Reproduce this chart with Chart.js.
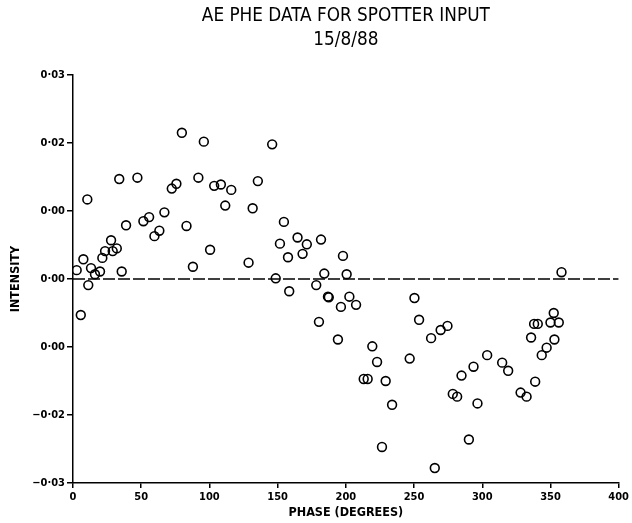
<!DOCTYPE html>
<html>
<head>
<meta charset="utf-8">
<script src="https://cdn.jsdelivr.net/npm/chart.js@4"></script>
<style>
  html, body { margin: 0; padding: 0; background: #fff; }
  #wrap { width: 632px; height: 523px; }
</style>
</head>
<body>
<div id="wrap"><canvas id="c" width="632" height="523"></canvas></div>
<script>
// ---- Data ----
const titleLines = ['AE PHE DATA FOR SPOTTER INPUT', '15/8/88'];
const xAxisTitle = 'PHASE (DEGREES)';
const yAxisTitle = 'INTENSITY';

const phase = [
  2.7, 5.7, 7.6, 10.5, 11.2, 13.2, 16.1, 19.8, 21.5, 23.5,
  27.9, 29.1, 32.1, 33.9, 35.7, 38.9, 47.2, 51.6, 55.8, 59.7,
  63.3, 67.0, 72.4, 75.8, 79.8, 83.2, 87.9, 91.9, 95.9, 100.5,
  103.5, 108.4, 111.6, 116.0, 128.7, 131.7, 135.5, 146.0, 148.6, 151.7,
  154.6, 157.6, 158.5, 164.6, 168.3, 171.4, 178.3, 180.3, 181.8, 184.2,
  186.9, 187.5, 194.2, 196.4, 197.9, 200.6, 202.6, 207.5, 213.1, 216.0,
  219.4, 222.9, 226.5, 229.2, 233.9, 246.8, 250.3, 253.7, 262.5, 265.2,
  269.5, 274.5, 278.4, 281.6, 284.8, 290.2, 293.6, 296.5, 303.6, 314.6,
  319.0, 328.1, 332.5, 335.8, 338.0, 338.8, 340.7, 343.6, 347.2, 350.0,
  352.4, 352.9, 356.1, 358.1
];
const intensity = [
  0.0013, -0.0053, 0.0029, 0.0117, -0.0009, 0.0016, 0.0007, 0.0011, 0.0031, 0.0041,
  0.0057, 0.0041, 0.0045, 0.0147, 0.0011, 0.0079, 0.0149, 0.0085, 0.0091, 0.0063,
  0.0071, 0.0098, 0.0133, 0.0140, 0.0215, 0.0078, 0.0018, 0.0149, 0.0202, 0.0043,
  0.0137, 0.0139, 0.0108, 0.0131, 0.0024, 0.0104, 0.0144, 0.0198, 0.0001, 0.0052,
  0.0084, 0.0032, -0.0018, 0.0061, 0.0037, 0.0051, -0.0009, -0.0063, 0.0058, 0.0008,
  -0.0026, -0.0027, -0.0089, -0.0041, 0.0034, 0.0007, -0.0026, -0.0038, -0.0147, -0.0147,
  -0.0099, -0.0122, -0.0247, -0.0150, -0.0185, -0.0117, -0.0028, -0.0060, -0.0087, -0.0278,
  -0.0075, -0.0069, -0.0169, -0.0173, -0.0142, -0.0236, -0.0129, -0.0183, -0.0112, -0.0123,
  -0.0135, -0.0167, -0.0173, -0.0086, -0.0066, -0.0151, -0.0066, -0.0112, -0.0101, -0.0064,
  -0.0050, -0.0089, -0.0064, 0.0010
];
const zeroLineX = [0, 400];
const zeroLineY = [0, 0];

const xTickValues = [0, 50, 100, 150, 200, 250, 300, 350, 400];
const yTickValues = [0.03, 0.02, 0.01, 0, -0.01, -0.02, -0.03];
const yTickText   = ['0·03', '0·02', '0·00', '0·00', '0·00', '−0·02', '−0·03'];

// ---- Styling ----
const FONT = '"Liberation Sans Narrow", "DejaVu Sans Condensed", "Liberation Sans", sans-serif';

const titlePlugin = {
  id: 'centredTitle',
  afterDraw(chart) {
    const {ctx, chartArea} = chart;
    const cx = (chartArea.left + chartArea.right) / 2;
    ctx.save();
    ctx.fillStyle = '#000';
    ctx.textAlign = 'center';
    ctx.textBaseline = 'middle';
    ctx.font = '18.8px ' + FONT;
    ctx.fillText(titleLines[0], cx, 16);
    ctx.fillText(titleLines[1], cx, 40);
    ctx.restore();
  }
};

new Chart(document.getElementById('c'), {
  type: 'scatter',
  data: {
    datasets: [
      {
        type: 'line',
        data: zeroLineX.map((x, i) => ({x, y: zeroLineY[i]})),
        borderColor: '#000',
        borderWidth: 1.4,
        borderDash: [12, 3],
        pointRadius: 0,
        fill: false,
        order: 2
      },
      {
        data: phase.map((x, i) => ({x, y: intensity[i]})),
        pointStyle: 'circle',
        pointRadius: 4.4,
        pointBorderWidth: 1.6,
        borderColor: '#000',
        backgroundColor: 'rgba(0,0,0,0)',
        order: 1
      }
    ]
  },
  options: {
    responsive: false,
    animation: false,
    events: [],
    layout: { padding: { top: 75, right: 13, left: 0, bottom: 0 } },
    plugins: { legend: { display: false }, tooltip: { enabled: false }, title: { display: false } },
    scales: {
      x: {
        type: 'linear',
        min: 0, max: 400,
        afterFit(s) { s.height = 40; },
        afterBuildTicks(s) { s.ticks = xTickValues.map(v => ({value: v})); },
        border: { color: '#000', width: 1.5 },
        grid: { drawOnChartArea: false, color: '#000', tickLength: 5, lineWidth: 1.5 },
        ticks: { color: '#000', padding: 3, maxRotation: 0, font: { family: FONT, size: 11, weight: 'bold' } },
        title: { display: true, text: xAxisTitle, color: '#000', padding: { top: 0, bottom: 3 },
                 font: { family: FONT, size: 12.5, weight: 'bold' } }
      },
      y: {
        type: 'linear',
        min: -0.03, max: 0.03,
        afterFit(s) { s.width = 73; },
        afterBuildTicks(s) { s.ticks = yTickValues.map(v => ({value: v})); },
        border: { color: '#000', width: 1.5 },
        grid: { drawOnChartArea: false, color: '#000', tickLength: 6, lineWidth: 1.5 },
        ticks: {
          color: '#000', padding: 2,
          font: { family: FONT, size: 11, weight: 'bold' },
          callback(v) {
            let best = 0;
            yTickValues.forEach((t, i) => { if (Math.abs(t - v) < Math.abs(yTickValues[best] - v)) best = i; });
            return yTickText[best];
          }
        },
        title: { display: true, text: yAxisTitle, color: '#000', padding: { top: 8, bottom: 0 },
                 font: { family: FONT, size: 12.5, weight: 'bold' } }
      }
    }
  },
  plugins: [titlePlugin]
});
</script>
</body>
</html>
